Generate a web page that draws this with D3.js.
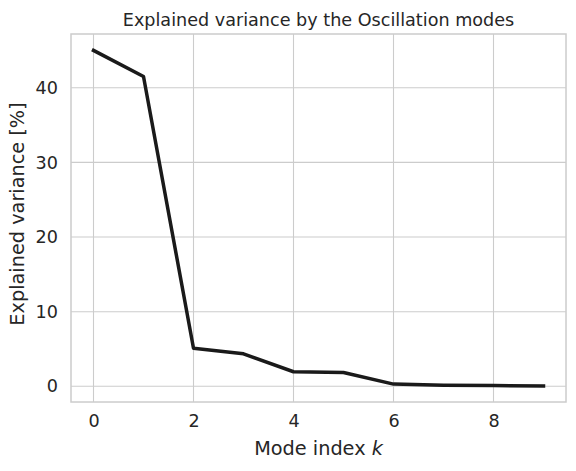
<!DOCTYPE html>
<html>
<head>
<meta charset="utf-8">
<script src="https://cdn.jsdelivr.net/npm/d3@7"></script>
<style>
  body { margin: 0; background: #fff; }
  text { font-family: "DejaVu Sans", sans-serif; fill: #262626; }
</style>
</head>
<body>
<svg id="chart" width="576" height="471"></svg>
<script>
// explained variance per oscillation mode (%)
const modes = [0, 1, 2, 3, 4, 5, 6, 7, 8, 9];
const variance = [45.0, 41.5, 5.1, 4.35, 1.95, 1.85, 0.3, 0.15, 0.1, 0.05];
const xTicks = [0, 2, 4, 6, 8];
const yTicks = [0, 10, 20, 30, 40];

const margin = { top: 34, right: 10, bottom: 69, left: 71 };
const svg = d3.select("#chart");
const width = 576 - margin.left - margin.right;
const height = 471 - margin.top - margin.bottom;

const x = d3.scaleLinear().domain([-0.45, 9.45]).range([0, width]);
const y = d3.scaleLinear().domain([-2.1, 47.2]).range([height, 0]);

const g = svg.append("g")
  .attr("transform", `translate(${margin.left},${margin.top})`);

// grid
g.append("g").selectAll("line").data(xTicks).join("line")
  .attr("x1", d => x(d)).attr("x2", d => x(d))
  .attr("y1", 0).attr("y2", height)
  .attr("stroke", "#cccccc").attr("stroke-width", 1.1);
g.append("g").selectAll("line").data(yTicks).join("line")
  .attr("x1", 0).attr("x2", width)
  .attr("y1", d => y(d)).attr("y2", d => y(d))
  .attr("stroke", "#cccccc").attr("stroke-width", 1.1);

// axes (labels only, no tick marks)
const xAxis = g.append("g")
  .attr("transform", `translate(0,${height})`)
  .call(d3.axisBottom(x).tickValues(xTicks).tickSize(0).tickPadding(13).tickFormat(d3.format("d")));
const yAxis = g.append("g")
  .call(d3.axisLeft(y).tickValues(yTicks).tickSize(0).tickPadding(13).tickFormat(d3.format("d")));
[xAxis, yAxis].forEach(a => {
  a.select(".domain").remove();
  a.attr("font-size", null).attr("font-family", null);
  a.selectAll("text").style("font-size", "17.6px").attr("fill", "#262626");
});

// spines
g.append("rect")
  .attr("x", 0).attr("y", 0).attr("width", width).attr("height", height)
  .attr("fill", "none").attr("stroke", "#cccccc").attr("stroke-width", 1.5);

// line
const line = d3.line().x((d, i) => x(modes[i])).y(d => y(d));
g.append("path")
  .datum(variance)
  .attr("d", line)
  .attr("fill", "none")
  .attr("stroke", "#1a1a1a")
  .attr("stroke-width", 3.5)
  .attr("stroke-linejoin", "round")
  .attr("stroke-linecap", "square");

// title and labels
svg.append("text")
  .attr("x", margin.left + width / 2).attr("y", 26)
  .attr("text-anchor", "middle").style("font-size", "17.6px")
  .text("Explained variance by the Oscillation modes");

const xl = svg.append("text")
  .attr("x", margin.left + width / 2).attr("y", 455)
  .attr("text-anchor", "middle").style("font-size", "19.3px");
xl.append("tspan").text("Mode index ");
xl.append("tspan").attr("font-style", "italic").text("k");

svg.append("text")
  .attr("transform", `translate(24,${margin.top + height / 2 - 4}) rotate(-90)`)
  .attr("text-anchor", "middle").style("font-size", "19.3px")
  .text("Explained variance [%]");
</script>
</body>
</html>
